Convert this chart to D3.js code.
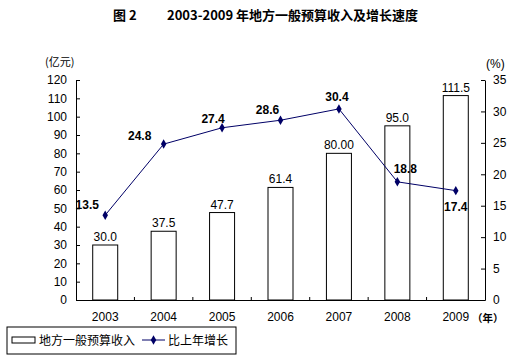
<!DOCTYPE html>
<html>
<head>
<meta charset="utf-8">
<script src="https://cdn.jsdelivr.net/npm/d3@7"></script>
<style>
body { margin: 0; background: #fff; }
text { font-family: "Liberation Sans", Arial, sans-serif; fill: #000; }
.cjk { font-family: "Noto Sans CJK SC", sans-serif; }
</style>
</head>
<body>
<div id="chart"></div>
<script>
// data
var years = ["2003", "2004", "2005", "2006", "2007", "2008", "2009"]
var revenue = [30.0, 37.5, 47.7, 61.4, 80.00, 95.0, 111.5]
var revenueLabels = ["30.0", "37.5", "47.7", "61.4", "80.00", "95.0", "111.5"]
var growth = [13.5, 24.8, 27.4, 28.6, 30.4, 18.8, 17.4]
var leftTicks = d3.range(0, 121, 10)
var rightTicks = d3.range(0, 36, 5)

// where the growth labels sit relative to their point (dx, dy)
var nudge = [[-18, -10], [-24, -8], [-9, -9], [-13, -10], [-2, -12], [8, -13], [0, 16]]

var w = 515, h = 362
var lineColour = "#000066"

var svg = d3.select("#chart")
	.append("svg")
	.attr("width", w)
	.attr("height", h)

var x = d3.scaleBand()
	.domain(years)
	.range([76, 485])

var yL = d3.scaleLinear().domain([0, 120]).range([300, 80])
var yR = d3.scaleLinear().domain([0, 35]).range([300, 80])

// title
svg.append("text")
	.attr("class", "cjk")
	.attr("x", 113).attr("y", 20)
	.style("font-size", "13px").style("font-weight", "bold")
	.text("图 2")
svg.append("text")
	.attr("class", "cjk")
	.attr("x", 167).attr("y", 20)
	.style("font-size", "13px").style("font-weight", "bold")
	.text("2003-2009 年地方一般预算收入及增长速度")

// unit labels
svg.append("text").attr("class", "cjk")
	.attr("x", 45).attr("y", 66)
	.style("font-size", "11px")
	.text("(亿元)")
svg.append("text")
	.attr("x", 486).attr("y", 68)
	.style("font-size", "12px")
	.text("(%)")

// bars
svg.selectAll(".bar")
	.data(revenue)
	.enter()
	.append("rect")
	.attr("class", "bar")
	.attr("x", function(d, i) { return x(years[i]) + x.bandwidth()/2 - 12.5 })
	.attr("y", function(d) { return yL(d) })
	.attr("width", 25)
	.attr("height", function(d) { return yL(0) - yL(d) })
	.style("fill", "#fff")
	.style("stroke", "#000")
	.style("stroke-width", 1)

svg.selectAll(".barLabel")
	.data(revenue)
	.enter()
	.append("text")
	.attr("x", function(d, i) { return x(years[i]) + x.bandwidth()/2 })
	.attr("y", function(d) { return yL(d) - 4 })
	.attr("text-anchor", "middle")
	.style("font-size", "12px")
	.text(function(d, i) { return revenueLabels[i] })

// axes
var leftAxis = d3.axisLeft(yL).tickValues(leftTicks).tickSizeInner(-4).tickSizeOuter(0).tickPadding(9)
var gL = svg.append("g").attr("transform", "translate(76,0)").call(leftAxis)
var rightAxis = d3.axisRight(yR).tickValues(rightTicks).tickSizeInner(-4).tickSizeOuter(0).tickPadding(8)
var gR = svg.append("g").attr("transform", "translate(485,0)").call(rightAxis)

var bottomAxis = d3.axisBottom(x).tickSize(0).tickPadding(12)
var gB = svg.append("g").attr("transform", "translate(0,300)").call(bottomAxis)

// category boundary ticks
svg.selectAll(".xTick")
	.data(d3.range(1, years.length))
	.enter()
	.append("line")
	.attr("x1", function(i) { return x(years[i]) })
	.attr("x2", function(i) { return x(years[i]) })
	.attr("y1", 300).attr("y2", 297)
	.style("stroke", "#000")

svg.selectAll(".domain").style("stroke", "#000")
svg.selectAll(".tick line").style("stroke", "#000")
svg.selectAll(".tick text").style("font-size", "12px").style("font-family", "Liberation Sans, Arial, sans-serif")

svg.append("text").attr("class", "cjk")
	.attr("x", 472).attr("y", 322)
	.style("font-size", "10.5px").style("font-weight", "bold")
	.text("（年）")

// growth line
var line = d3.line()
	.x(function(d, i) { return x(years[i]) + x.bandwidth()/2 })
	.y(function(d) { return yR(d) })

svg.append("path")
	.attr("d", line(growth))
	.style("fill", "none")
	.style("stroke", lineColour)
	.style("stroke-width", 1)

var diamond = d3.symbol().type(d3.symbolDiamond).size(26)

svg.selectAll(".dot")
	.data(growth)
	.enter()
	.append("path")
	.attr("d", diamond)
	.attr("transform", function(d, i) { return "translate(" + (x(years[i]) + x.bandwidth()/2) + "," + yR(d) + ")" })
	.style("fill", lineColour)

svg.selectAll(".growthLabel")
	.data(growth)
	.enter()
	.append("text")
	.attr("x", function(d, i) { return x(years[i]) + x.bandwidth()/2 + nudge[i][0] })
	.attr("y", function(d, i) { return yR(d) + nudge[i][1] + 4 })
	.attr("text-anchor", "middle")
	.style("font-size", "12px")
	.style("font-weight", "bold")
	.text(function(d) { return d.toFixed(1) })

// legend
var lg = svg.append("g")
lg.append("rect")
	.attr("x", 7).attr("y", 327).attr("width", 229).attr("height", 27)
	.style("fill", "#fff").style("stroke", "#000")
lg.append("rect")
	.attr("x", 12).attr("y", 337).attr("width", 23).attr("height", 6)
	.style("fill", "#fff").style("stroke", "#000")
lg.append("text").attr("class", "cjk")
	.attr("x", 39).attr("y", 345)
	.style("font-size", "12px")
	.text("地方一般预算收入")
lg.append("line")
	.attr("x1", 142).attr("x2", 165).attr("y1", 340).attr("y2", 340)
	.style("stroke", lineColour)
lg.append("path")
	.attr("d", diamond)
	.attr("transform", "translate(153.5,340)")
	.style("fill", lineColour)
lg.append("text").attr("class", "cjk")
	.attr("x", 168).attr("y", 345)
	.style("font-size", "12px")
	.text("比上年增长")
</script>
</body>
</html>
